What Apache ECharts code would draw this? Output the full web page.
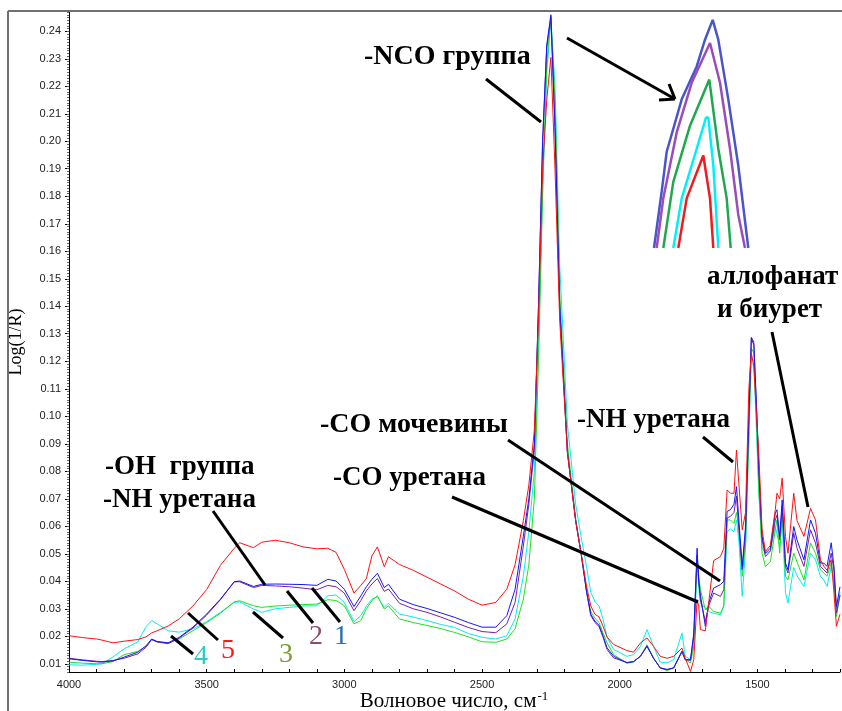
<!DOCTYPE html>
<html><head><meta charset="utf-8">
<script src="https://cdn.jsdelivr.net/npm/echarts@6/dist/echarts.min.js"></script>
<style>html,body{margin:0;padding:0;background:#fff}#c{width:842px;height:711px}</style>
</head><body><div id="c"></div>
<script>
// ---- data ----
const wavenumbers = [4000,3950,3900,3880,3840,3800,3750,3720,3700,3680,
 3640,3600,3550,3500,3450,3400,3380,3330,3300,3250,
 3200,3150,3100,3060,3030,3000,2965,2940,2920,2900,
 2880,2855,2840,2800,2750,2700,2650,2600,2550,2500,
 2450,2410,2380,2350,2330,2310,2295,2280,2265,2250,
 2235,2218,2190,2160,2140,2120,2105,2090,2075,2060,
 2046,2022,1974,1950,1925,1901,1877,1853,1828,1804,
 1774,1762,1743,1731,1719,1713,1707,1689,1677,1659,
 1634,1622,1610,1598,1585,1576,1567,1555,1543,1531,
 1522,1513,1503,1495,1483,1471,1453,1435,1429,1419,
 1410,1398,1389,1368,1356,1331,1307,1289,1271,1259,
 1247,1232,1222,1213,1200];

const sample5Red = [0.0202,0.0195,0.0190,0.0186,0.0176,0.0182,0.0188,0.0198,0.0212,0.0220,
 0.0237,0.0263,0.0310,0.0370,0.0458,0.0520,0.0540,0.0522,0.0542,0.0549,
 0.0540,0.0525,0.0518,0.0520,0.0505,0.0443,0.0357,0.0385,0.0410,0.0492,
 0.0525,0.0453,0.0489,0.0461,0.0440,0.0415,0.0390,0.0365,0.0335,0.0313,
 0.0323,0.0371,0.0460,0.0620,0.0750,0.0950,0.1350,0.1900,0.2150,0.2305,
 0.1900,0.1350,0.0870,0.0620,0.0500,0.0380,0.0310,0.0280,0.0270,0.0235,
 0.0197,0.0170,0.0148,0.0142,0.0175,0.0194,0.0163,0.0127,0.0120,0.0127,
 0.0157,0.0120,0.0072,0.0115,0.0333,0.0310,0.0224,0.0220,0.0320,0.0475,
 0.0490,0.0520,0.0732,0.0720,0.0720,0.0877,0.0750,0.0587,0.0650,0.1100,
 0.1229,0.1180,0.1000,0.0866,0.0587,0.0508,0.0530,0.0660,0.0720,0.0700,
 0.0775,0.0563,0.0502,0.0720,0.0620,0.0563,0.0665,0.0623,0.0478,0.0455,
 0.0440,0.0478,0.0360,0.0236,0.0280];

const sample1Blue = [0.0118,0.0112,0.0107,0.0106,0.0110,0.0124,0.0142,0.0165,0.0190,0.0181,
 0.0176,0.0196,0.0233,0.0281,0.0335,0.0398,0.0401,0.0381,0.0389,0.0390,
 0.0389,0.0388,0.0385,0.0407,0.0401,0.0371,0.0308,0.0347,0.0380,0.0407,
 0.0429,0.0377,0.0389,0.0335,0.0315,0.0301,0.0285,0.0269,0.0250,0.0233,
 0.0233,0.0275,0.0371,0.0564,0.0700,0.0900,0.1400,0.2000,0.2350,0.2460,
 0.2050,0.1400,0.0870,0.0620,0.0500,0.0360,0.0280,0.0255,0.0240,0.0200,
 0.0158,0.0127,0.0103,0.0108,0.0127,0.0163,0.0120,0.0085,0.0079,0.0085,
 0.0145,0.0115,0.0115,0.0212,0.0520,0.0400,0.0350,0.0236,0.0320,0.0375,
 0.0388,0.0400,0.0654,0.0660,0.0680,0.0744,0.0620,0.0454,0.0600,0.1000,
 0.1283,0.1260,0.1030,0.0820,0.0563,0.0502,0.0520,0.0648,0.0660,0.0563,
 0.0696,0.0466,0.0442,0.0599,0.0550,0.0478,0.0623,0.0575,0.0466,0.0466,
 0.0454,0.0540,0.0455,0.0308,0.0380];

const sample2Purple = [0.0120,0.0114,0.0109,0.0108,0.0112,0.0120,0.0136,0.0160,0.0188,0.0179,
 0.0173,0.0193,0.0230,0.0277,0.0333,0.0398,0.0398,0.0377,0.0385,0.0383,
 0.0380,0.0375,0.0369,0.0385,0.0380,0.0357,0.0293,0.0330,0.0365,0.0390,
 0.0410,0.0363,0.0372,0.0320,0.0300,0.0287,0.0270,0.0251,0.0232,0.0217,
 0.0213,0.0245,0.0323,0.0528,0.0680,0.0880,0.1400,0.2000,0.2340,0.2450,
 0.2050,0.1400,0.0870,0.0620,0.0500,0.0360,0.0275,0.0250,0.0235,0.0195,
 0.0152,0.0121,0.0105,0.0108,0.0127,0.0165,0.0120,0.0085,0.0079,0.0085,
 0.0145,0.0115,0.0112,0.0200,0.0494,0.0400,0.0333,0.0254,0.0310,0.0357,
 0.0345,0.0370,0.0630,0.0636,0.0650,0.0710,0.0587,0.0442,0.0580,0.1000,
 0.1287,0.1270,0.1030,0.0800,0.0550,0.0490,0.0510,0.0623,0.0640,0.0551,
 0.0672,0.0454,0.0430,0.0575,0.0520,0.0454,0.0587,0.0539,0.0454,0.0442,
 0.0430,0.0502,0.0440,0.0284,0.0350];

const sample3Green = [0.0106,0.0102,0.0100,0.0100,0.0108,0.0133,0.0145,0.0165,0.0188,0.0180,
 0.0176,0.0190,0.0220,0.0250,0.0284,0.0325,0.0329,0.0311,0.0305,0.0310,
 0.0313,0.0315,0.0317,0.0333,0.0330,0.0311,0.0245,0.0257,0.0300,0.0330,
 0.0347,0.0299,0.0311,0.0263,0.0250,0.0239,0.0228,0.0214,0.0198,0.0180,
 0.0178,0.0190,0.0227,0.0335,0.0460,0.0700,0.1200,0.1800,0.2280,0.2455,
 0.2150,0.1450,0.0900,0.0630,0.0500,0.0360,0.0290,0.0265,0.0250,0.0210,
 0.0176,0.0133,0.0103,0.0106,0.0127,0.0169,0.0120,0.0085,0.0075,0.0085,
 0.0145,0.0115,0.0103,0.0163,0.0494,0.0420,0.0370,0.0296,0.0310,0.0290,
 0.0284,0.0310,0.0623,0.0623,0.0610,0.0650,0.0587,0.0418,0.0540,0.0950,
 0.1247,0.1230,0.0980,0.0744,0.0502,0.0454,0.0470,0.0587,0.0623,0.0502,
 0.0648,0.0418,0.0405,0.0502,0.0470,0.0405,0.0539,0.0502,0.0442,0.0430,
 0.0418,0.0466,0.0400,0.0272,0.0350];

const sample4Cyan = [0.0096,0.0095,0.0098,0.0100,0.0125,0.0154,0.0180,0.0235,0.0257,0.0245,
 0.0220,0.0215,0.0227,0.0253,0.0287,0.0323,0.0325,0.0299,0.0287,0.0300,
 0.0305,0.0310,0.0311,0.0347,0.0350,0.0323,0.0253,0.0275,0.0310,0.0335,
 0.0344,0.0305,0.0320,0.0281,0.0270,0.0257,0.0243,0.0232,0.0210,0.0196,
 0.0190,0.0202,0.0263,0.0418,0.0580,0.0800,0.1250,0.1850,0.2250,0.2440,
 0.2200,0.1550,0.0970,0.0680,0.0560,0.0450,0.0360,0.0326,0.0310,0.0260,
 0.0197,0.0152,0.0127,0.0133,0.0163,0.0224,0.0163,0.0106,0.0103,0.0115,
 0.0212,0.0127,0.0115,0.0163,0.0466,0.0380,0.0321,0.0302,0.0290,0.0284,
 0.0278,0.0310,0.0580,0.0590,0.0580,0.0623,0.0544,0.0345,0.0520,0.0900,
 0.1217,0.1200,0.0940,0.0720,0.0520,0.0502,0.0510,0.0600,0.0599,0.0527,
 0.0623,0.0360,0.0321,0.0450,0.0420,0.0381,0.0502,0.0478,0.0418,0.0405,
 0.0381,0.0454,0.0390,0.0300,0.0360];

// inset (magnified NCO peak top), relative units 0..100
const insetBlue   = [[4,0],[11.7,24.3],[16.7,41.3],[31.7,63.8],[46.7,77.9],[55,89.4],[62.7,97.9],[63.3,97.9],[68.3,89.4],[78.3,63.8],[88.3,35.3],[98.3,0]];
const insetPurple = [[6.7,0],[13.3,21.3],[26.7,49.6],[41.7,70.9],[60,88],[61.7,88],[70,70.9],[80,42.6],[88.3,14.2],[95,0]];
const insetGreen  = [[13.3,0],[23.3,28.4],[40,52.5],[59.3,72.3],[60.7,72.3],[68.3,42.6],[76.7,21.3],[80.7,0]];
const insetCyan   = [[23.3,0],[31.7,21.3],[46.7,42.6],[56,56],[58.3,56],[63.3,35.5],[68.3,0]];
const insetRed    = [[28.3,0],[36.7,21.3],[53.3,39.7],[55,39.7],[60,21.3],[63.3,0]];

const xTickLabels = [4000,3500,3000,2500,2000,1500];
const yTickLabels = [0.01,0.02,0.03,0.04,0.05,0.06,0.07,0.08,0.09,0.10,0.11,0.12,
 0.13,0.14,0.15,0.16,0.17,0.18,0.19,0.20,0.21,0.22,0.23,0.24];

// ---- chart ----
const chart = echarts.init(document.getElementById('c'), null, {renderer:'canvas'});
const zip = arr => wavenumbers.map((w,i)=>[w,arr[i]]);
const serif = 'Liberation Serif, Times New Roman, serif';
const mainSeries = [
  {name:'4', data: zip(sample4Cyan), color:'#00eeee'},
  {name:'3', data: zip(sample3Green), color:'#1ee01e'},
  {name:'2', data: zip(sample2Purple), color:'#7a1fa0'},
  {name:'1', data: zip(sample1Blue), color:'#1515ff'},
  {name:'5', data: zip(sample5Red), color:'#ff1010'}
].map(s=>({type:'line', name:s.name, data:s.data, xAxisIndex:0, yAxisIndex:0,
  showSymbol:false, symbol:'none', lineStyle:{width:1, color:s.color}, itemStyle:{color:s.color},
  animation:false, z:3}));
const insetSeries = [
  {d:insetBlue, c:'#4a55cc'},{d:insetPurple, c:'#9a4cb8'},{d:insetGreen, c:'#20a850'},
  {d:insetCyan, c:'#00f0f8'},{d:insetRed, c:'#ee1c1c'}
].map(s=>({type:'line', data:s.d, xAxisIndex:1, yAxisIndex:2, showSymbol:false, symbol:'none',
  lineStyle:{width:2.5, color:s.c}, animation:false, z:3}));

function txt(x,y,t,size,color,bold){
  return {type:'text', x:x, y:y, style:{text:t, font:(bold?'bold ':'')+size+'px '+serif, fill:color, textVerticalAlign:'middle'}, z:10};
}
function ln(x1,y1,x2,y2){
  return {type:'line', shape:{x1,y1,x2,y2}, style:{stroke:'#000', lineWidth:3}, z:10};
}

chart.setOption({
  backgroundColor:'#fff',
  animation:false,
  grid:[{left:69, right:2, top:12, bottom:39, containLabel:false, outerBoundsMode:'none'},
        {left:650, top:15, width:100, height:233, outerBoundsMode:'none'}],
  xAxis:[{type:'value', min:1200, max:4000, inverse:true, interval:100, gridIndex:0,
    axisLine:{show:true, lineStyle:{color:'#000', width:1}},
    axisTick:{show:true, inside:true, length:3, lineStyle:{color:'#000'}},
    axisLabel:{margin:7, fontFamily:'Liberation Sans, Arial', fontSize:11, color:'#222',
      formatter:v=> xTickLabels.includes(Math.round(v)) ? String(Math.round(v)) : ''},
    splitLine:{show:false}},
    {type:'value', min:0, max:100, gridIndex:1, show:false}],
  yAxis:[{type:'value', min:0.007, max:0.247, gridIndex:0,
    axisLine:{show:true, lineStyle:{color:'#000', width:1}},
    axisTick:{show:true, length:4, customValues:yTickLabels, lineStyle:{color:'#000'}},
    axisLabel:{margin:8, customValues:yTickLabels, fontFamily:'Liberation Sans, Arial', fontSize:11, color:'#222',
      formatter:v=>v.toFixed(2)},
    splitLine:{show:false},
    name:'Log(1/R)', nameLocation:'middle', nameGap:44,
    nameTextStyle:{fontFamily:serif, fontSize:18, color:'#000'}},
    {type:'value', min:0.007, max:0.247, interval:0.001, gridIndex:0, position:'left', offset:0,
     axisLine:{show:false}, axisLabel:{show:false}, splitLine:{show:false},
     axisTick:{show:true, inside:false, length:2, lineStyle:{color:'#666'}}},
    {type:'value', min:0, max:100, gridIndex:1, show:false}],
  series: mainSeries.concat(insetSeries),
  graphic:[
    {type:'line', shape:{x1:8,y1:11,x2:842,y2:11}, style:{stroke:'#707070', lineWidth:2}, z:20},
    {type:'line', shape:{x1:8,y1:11,x2:8,y2:711}, style:{stroke:'#707070', lineWidth:2}, z:20},
    {type:'text', x:454, y:701, z:10, style:{text:'{a|Волновое число, см}{b|-1}',
      textAlign:'center', textVerticalAlign:'middle',
      rich:{a:{font:'21px '+serif, fill:'#000', lineHeight:22, verticalAlign:'bottom'},
            b:{font:'13px '+serif, fill:'#000', lineHeight:22, verticalAlign:'top', padding:[0,0,0,1]}}}},
    txt(364,57,'-NCO группа',28,'#000',true),
    txt(707,277,'аллофанат',27,'#000',true),
    txt(717,310,'и биурет',27,'#000',true),
    txt(577,420,'-NH уретана',27,'#000',true),
    txt(320,425,'-CO мочевины',28,'#000',true),
    txt(333,478,'-CO уретана',27,'#000',true),
    txt(105,467,'-OH  группа',27,'#000',true),
    txt(103,500,'-NH уретана',27,'#000',true),
    txt(194,657,'4',28,'#30c8c8',false),
    txt(221,651,'5',28,'#ff1818',false),
    txt(279,655,'3',28,'#7f9a3a',false),
    txt(309,637,'2',28,'#8b4d6e',false),
    txt(334,637,'1',28,'#1f6fb8',false),
    ln(486,79,541,122),
    ln(567,38,675,99), ln(675,99,659,100), ln(675,99,669,84),
    ln(772,332,808,507),
    ln(703,437,733,462),
    ln(508,440,720,581),
    ln(452,497,698,602),
    ln(213,511,265,585),
    ln(287,591,313,623),
    ln(312,588,340,622),
    ln(253,612,283,638),
    ln(188,613,218,640),
    ln(171,636,193,654)
  ]
});
</script></body></html>
